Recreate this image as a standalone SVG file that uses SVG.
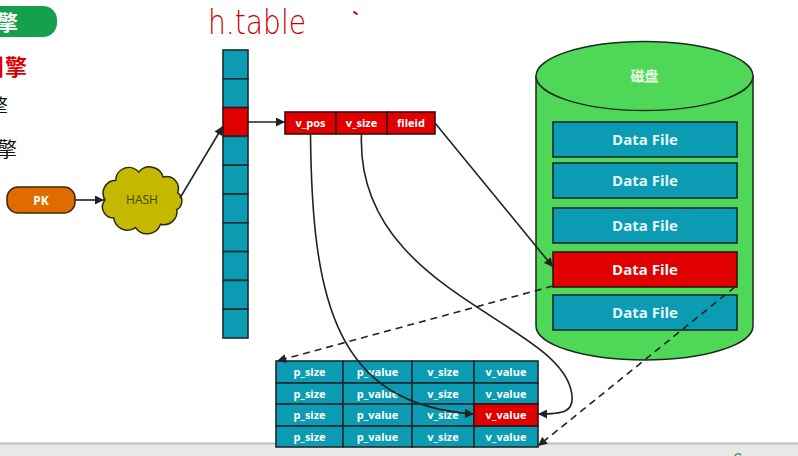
<svg xmlns="http://www.w3.org/2000/svg" width="798" height="456" viewBox="0 0 798 456">
  <defs>
    <style>
      .lbl { font-family: "Open Sans", "Liberation Sans", sans-serif; font-weight: bold; fill: #ffffff; text-anchor: middle; }
      .cjk { font-family: "Noto Sans CJK SC", sans-serif; }
      .teal { fill: #0b9bb2; stroke: #1b2b30; stroke-width: 1.6; }
      .red { fill: #e00000; stroke: #3a1010; stroke-width: 1.6; }
      .wire { fill: none; stroke: #222; stroke-width: 1.6; }
      .dash { fill: none; stroke: #222; stroke-width: 1.6; stroke-dasharray: 7 5; }
    </style>
    <marker id="arrow" viewBox="0 0 10 10" refX="10" refY="5" markerWidth="11" markerHeight="9" markerUnits="userSpaceOnUse" orient="auto">
      <path d="M0,0 L10,5 L0,10 Z" fill="#222"/>
    </marker>
  </defs>

  <rect width="798" height="456" fill="#ffffff"/>

  <!-- window bottom strip -->
  <rect x="0" y="443" width="798" height="13" fill="#e9e9ea"/>
  <line x1="0" y1="443.5" x2="798" y2="443.5" stroke="#b9bec8" stroke-width="2"/>
  <text x="733" y="465" font-family="Liberation Sans, sans-serif" font-size="17" fill="#2a9a50">6</text>

  <!-- left-hand outline items -->
  <g id="outline">
    <rect x="-20" y="6" width="77" height="31" rx="14" fill="#14a04c"/>
    <text x="-3" y="30" class="cjk" font-size="21" font-weight="bold" fill="#ffffff">擎</text>
    <text x="-17" y="75" class="cjk" font-size="22" font-weight="bold" fill="#dd0000">引擎</text>
    <text x="-12" y="114" class="cjk" font-size="20" fill="#111">擎</text>
    <text x="-3" y="157" class="cjk" font-size="20" fill="#111">擎</text>
  </g>

  <!-- handwritten annotation -->
  <g id="note">
    <text x="208" y="34" font-family="DejaVu Sans, sans-serif" font-size="34" font-weight="200" fill="#c80000" textLength="98" lengthAdjust="spacingAndGlyphs">h.table</text>
    <path d="M354,12 L357,14" stroke="#c80000" stroke-width="2" stroke-linecap="round"/>
  </g>

  <!-- PK -->
  <g id="pk">
    <rect x="7" y="187" width="68" height="26" rx="11" fill="#e06c00" stroke="#3a2a10" stroke-width="1.5"/>
    <text x="41" y="204.5" class="lbl" font-size="12">PK</text>
  </g>

  <!-- HASH cloud -->
  <g id="hash">
    <path d="M105,200 A13,13 0 0 1 115.8,180.2 A13,13 0 0 1 138.8,172.1 A14,14 0 0 1 163.2,177.1 A12,12 0 0 1 177.7,192.8 A10,10 0 0 1 176.8,209.6 A13,13 0 0 1 160.5,224.2 A14,14 0 0 1 135.6,227.6 A14,14 0 0 1 113.7,218 A11,11 0 0 1 105,200 Z" fill="#c4b800" stroke="#2a2a10" stroke-width="1.5"/>
    <text x="142" y="204" font-family="Open Sans, Liberation Sans, sans-serif" font-size="12" fill="#4a4510" text-anchor="middle">HASH</text>
  </g>

  <!-- hash table column -->
  <g id="htable">
    <rect x="223" y="50" width="25" height="28.8" class="teal"/>
    <rect x="223" y="78.8" width="25" height="28.8" class="teal"/>
    <rect x="223" y="107.6" width="25" height="28.8" class="red"/>
    <rect x="223" y="136.4" width="25" height="28.8" class="teal"/>
    <rect x="223" y="165.2" width="25" height="28.8" class="teal"/>
    <rect x="223" y="194" width="25" height="28.8" class="teal"/>
    <rect x="223" y="222.8" width="25" height="28.8" class="teal"/>
    <rect x="223" y="251.6" width="25" height="28.8" class="teal"/>
    <rect x="223" y="280.4" width="25" height="28.8" class="teal"/>
    <rect x="223" y="309.2" width="25" height="28.8" class="teal"/>
  </g>

  <!-- index record -->
  <g id="record">
    <rect x="285" y="112" width="51" height="22" class="red"/>
    <rect x="336" y="112" width="51" height="22" class="red"/>
    <rect x="387" y="112" width="48" height="22" class="red"/>
    <text x="310.5" y="127" class="lbl" font-size="11">v_pos</text>
    <text x="361.5" y="127" class="lbl" font-size="11">v_size</text>
    <text x="411" y="127" class="lbl" font-size="11">fileid</text>
  </g>

  <!-- disk -->
  <g id="disk">
    <path d="M536,76 V326 A108.5,34 0 0 0 753,326 V76 Z" fill="#4fd858" stroke="#1b2b1b" stroke-width="1.5"/>
    <ellipse cx="644.5" cy="76" rx="108.5" ry="34.5" fill="#4fd858" stroke="#1b2b1b" stroke-width="1.5"/>
    <text x="644.5" y="81" class="cjk" font-size="14" font-weight="bold" fill="#e8fbe8" text-anchor="middle">磁盘</text>
    <rect x="553" y="122" width="184" height="35" class="teal"/>
    <rect x="553" y="163" width="184" height="35" class="teal"/>
    <rect x="553" y="208" width="184" height="35" class="teal"/>
    <rect x="553" y="252" width="184" height="35" class="red"/>
    <rect x="553" y="295" width="184" height="35" class="teal"/>
    <g class="lbl" font-size="15" style="fill:#e6f6f6">
      <text x="645" y="145">Data File</text>
      <text x="645" y="186">Data File</text>
      <text x="645" y="231">Data File</text>
      <text x="645" y="275">Data File</text>
      <text x="645" y="318">Data File</text>
    </g>
  </g>

  <!-- record table -->
  <g id="rows">
    <g class="teal">
      <rect x="276" y="361" width="67" height="22"/><rect x="343" y="361" width="69" height="22"/><rect x="412" y="361" width="62" height="22"/><rect x="474" y="361" width="64" height="22"/>
      <rect x="276" y="383" width="67" height="21"/><rect x="343" y="383" width="69" height="21"/><rect x="412" y="383" width="62" height="21"/><rect x="474" y="383" width="64" height="21"/>
      <rect x="276" y="404" width="67" height="22"/><rect x="343" y="404" width="69" height="22"/><rect x="412" y="404" width="62" height="22"/>
      <rect x="276" y="426" width="67" height="21"/><rect x="343" y="426" width="69" height="21"/><rect x="412" y="426" width="62" height="21"/><rect x="474" y="426" width="64" height="21"/>
    </g>
    <rect x="474" y="404" width="64" height="22" class="red"/>
    <g class="lbl" font-size="11">
      <text x="309.5" y="376">p_size</text><text x="377.5" y="376">p_value</text><text x="443" y="376">v_size</text><text x="506" y="376">v_value</text>
      <text x="309.5" y="397.5">p_size</text><text x="377.5" y="397.5">p_value</text><text x="443" y="397.5">v_size</text><text x="506" y="397.5">v_value</text>
      <text x="309.5" y="419">p_size</text><text x="377.5" y="419">p_value</text><text x="443" y="419">v_size</text><text x="506" y="419">v_value</text>
      <text x="309.5" y="440.5">p_size</text><text x="377.5" y="440.5">p_value</text><text x="443" y="440.5">v_size</text><text x="506" y="440.5">v_value</text>
    </g>
  </g>

  <!-- connectors -->
  <g id="connectors">
    <path d="M75,200 L104,200" class="wire" marker-end="url(#arrow)"/>
    <path d="M180,198 L223,126" class="wire" marker-end="url(#arrow)"/>
    <path d="M248,122 L285,122" class="wire" marker-end="url(#arrow)"/>
    <path d="M435,123 L553,267" class="wire" marker-end="url(#arrow)"/>
    <path d="M310.5,134 C312,300 335,405 474,414" class="wire" marker-end="url(#arrow)"/>
    <path d="M361.5,134 C355,290 555,320 571,390 C577,414 560,414 538,414" class="wire" marker-end="url(#arrow)"/>
    <path d="M553,286 L277,361" class="dash" marker-end="url(#arrow)"/>
    <path d="M735,287 L538,446" class="dash" marker-end="url(#arrow)"/>
  </g>
</svg>
